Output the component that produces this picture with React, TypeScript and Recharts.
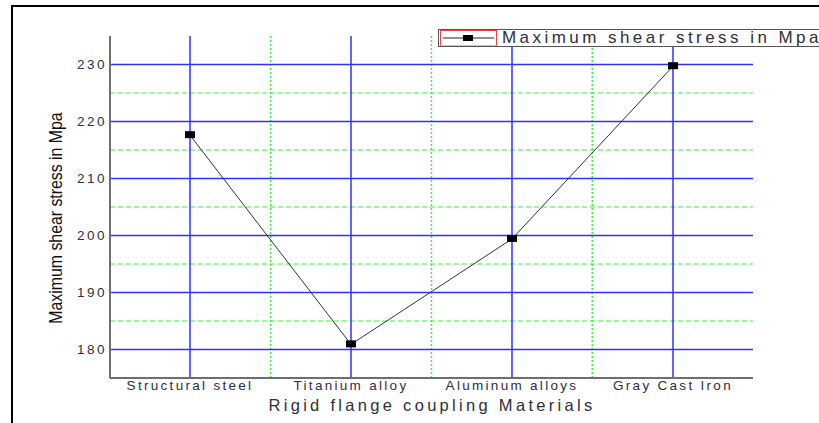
import React from 'react';
import {
    LineChart,
    Line,
    XAxis,
    YAxis,
    CartesianGrid,
    ReferenceLine
} from 'recharts';

const categories = ['Structural steel', 'Titanium alloy', 'Aluminum alloys', 'Gray Cast Iron'];
const shearStress = [217.6, 180.9, 199.4, 229.7];
const majorTicks = [180, 190, 200, 210, 220, 230];
const minorTicks = [185, 195, 205, 215, 225];
const seriesName = 'Maximum shear stress in Mpa';

const data = categories.map((name, i) => ({ name, stress: shearStress[i] }));

const textColor = '#2e2e3e';
const blue = '#3030ff';
const green = '#3cf03c';
const font = '"Liberation Sans", Arial, sans-serif';

function SquareDot(props: any) {
    const { cx, cy } = props;
    if (cx == null || cy == null) return null;
    return <rect x={cx - 5} y={cy - 4} width={10} height={7} fill="#000" />;
}

// green dotted lines halfway between category ticks (band boundaries)
function bandEdges({ xAxis, offset }: any) {
    const scale = xAxis && typeof xAxis.scale === 'function' ? xAxis.scale : null;
    if (scale) {
        const pts = categories.map((c) => scale(c) as number);
        if (pts.every((p) => typeof p === 'number' && !isNaN(p))) {
            return pts.slice(1).map((p, i) => (p + pts[i]) / 2);
        }
    }
    return categories.slice(1).map((_, i) => offset.left + (offset.width * (i + 1)) / categories.length);
}

function LegendBox() {
    return (
        <div
            style={{
                position: 'absolute',
                left: 438,
                top: 29,
                width: 420,
                height: 18,
                border: '1px solid #555',
                background: '#fff',
                display: 'flex',
                alignItems: 'center',
                boxSizing: 'border-box'
            }}
        >
            <div
                style={{
                    width: 57,
                    height: 16,
                    borderLeft: '1px solid #f04040',
                    borderTop: '1px solid #f04040',
                    borderRight: '1px solid #f04040',
                    borderBottom: '1px solid #40ffff',
                    boxSizing: 'border-box',
                    marginLeft: 1
                }}
            >
                <svg width={55} height={14} style={{ display: 'block' }}>
                    <line x1={2} y1={7} x2={53} y2={7} stroke="#222" strokeWidth={1} />
                    <rect x={22} y={4} width={10} height={6} fill="#000" />
                </svg>
            </div>
            <span
                style={{
                    marginLeft: 5,
                    fontFamily: font,
                    fontSize: 17,
                    letterSpacing: 3.45,
                    color: textColor,
                    whiteSpace: 'nowrap',
                    lineHeight: '16px'
                }}
            >
                {seriesName}
            </span>
        </div>
    );
}

export default function App() {
    return (
        <div
            style={{
                position: 'absolute',
                left: 0,
                top: 0,
                width: 819,
                height: 423,
                overflow: 'hidden',
                background: '#fff'
            }}
        >
            <div
                style={{
                    position: 'absolute',
                    left: 11,
                    top: 5,
                    width: 900,
                    height: 500,
                    border: '2.5px solid #000',
                    boxSizing: 'border-box'
                }}
            />
            <LineChart
                width={819}
                height={423}
                data={data}
                margin={{ top: 36, right: 66, bottom: 15, left: 50 }}
                style={{ position: 'absolute', left: 0, top: 0 }}
            >
                <CartesianGrid
                    horizontal={false}
                    stroke={green}
                    strokeWidth={1.5}
                    strokeDasharray="2 2"
                    verticalCoordinatesGenerator={bandEdges}
                />
                {minorTicks.map((v) => (
                    <ReferenceLine key={`m${v}`} y={v} stroke={green} strokeWidth={1.2} strokeDasharray="5 3" />
                ))}
                {majorTicks.map((v) => (
                    <ReferenceLine key={`t${v}`} y={v} stroke={blue} strokeWidth={1.3} />
                ))}
                {categories.map((c) => (
                    <ReferenceLine key={c} x={c} stroke={blue} strokeWidth={1.5} />
                ))}
                <XAxis
                    dataKey="name"
                    height={30}
                    padding={{ left: 80, right: 80 }}
                    axisLine={{ stroke: '#6e6e6e', strokeWidth: 2 }}
                    tickLine={false}
                    tickSize={0}
                    tickMargin={2}
                    tick={{ fill: textColor, fontSize: 13.5, letterSpacing: 2.3, fontFamily: font }}
                />
                <YAxis
                    width={60}
                    domain={[175, 235]}
                    ticks={majorTicks}
                    allowDataOverflow
                    axisLine={{ stroke: '#6e6e6e', strokeWidth: 2 }}
                    tickLine={false}
                    tickSize={0}
                    tickMargin={3}
                    tick={{ fill: textColor, fontSize: 13.5, letterSpacing: 2.5, fontFamily: font }}
                />
                <Line
                    type="linear"
                    dataKey="stress"
                    name={seriesName}
                    stroke="#333"
                    strokeWidth={1}
                    dot={<SquareDot />}
                    activeDot={false}
                    isAnimationActive={false}
                />
            </LineChart>
            <LegendBox />
            <div
                style={{
                    position: 'absolute',
                    left: 56,
                    top: 218,
                    transform: 'translate(-50%, -50%) rotate(-90deg) scaleX(0.88)',
                    fontFamily: font,
                    fontSize: 18,
                    color: '#111',
                    whiteSpace: 'nowrap'
                }}
            >
                {seriesName}
            </div>
            <div
                style={{
                    position: 'absolute',
                    left: 432,
                    top: 405,
                    transform: 'translate(-50%, -50%)',
                    fontFamily: font,
                    fontSize: 16.5,
                    letterSpacing: 3.3,
                    color: textColor,
                    whiteSpace: 'nowrap'
                }}
            >
                Rigid flange coupling Materials
            </div>
        </div>
    );
}
